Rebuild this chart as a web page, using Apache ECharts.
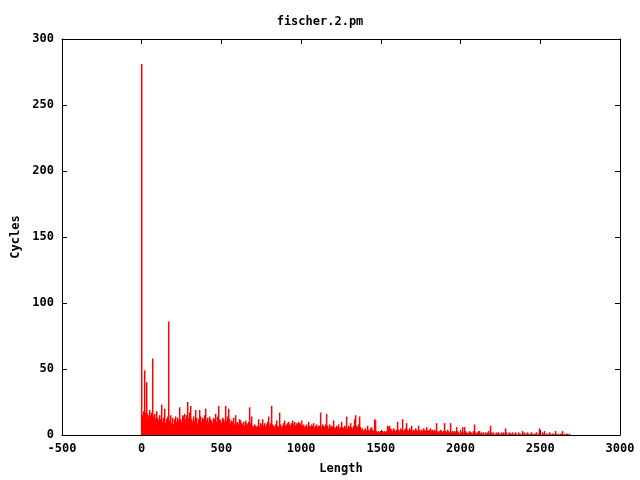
<!DOCTYPE html>
<html>
<head>
<meta charset="utf-8">
<script src="https://cdn.jsdelivr.net/npm/echarts@6/dist/echarts.min.js"></script>
<style>html,body{margin:0;padding:0;background:#fff}#c{width:640px;height:480px}</style>
</head>
<body>
<div id="c"></div>
<script>
// Data
const titleText = "fischer.2.pm";
const xLabel = "Length";
const yLabel = "Cycles";
const xStart = 0;      // length of first impulse
const xStep = 6.27;    // spacing between consecutive lengths sampled
const cycles = [
281,15,18,49,17,40,16,14,19,15,
17,58,14,16,12,18,13,11,15,12,
23,10,13,20,9,12,14,86,11,15,
9,13,8,12,14,10,13,11,21,12,
10,15,14,16,12,15,25,13,17,22,
12,10,14,11,19,13,9,12,19,14,
10,13,12,15,20,11,13,10,14,12,
11,9,13,12,16,10,14,22,12,11,
9,13,12,10,22,11,14,20,12,9,
11,10,13,8,15,9,10,8,12,11,
9,8,10,7,11,9,8,10,21,9,
14,7,6,8,7,6,7,12,6,9,
8,12,7,9,6,8,10,14,7,9,
22,8,7,6,8,11,7,6,17,8,
6,7,9,11,7,8,9,10,8,7,
9,11,8,10,7,9,8,10,9,8,
11,7,8,6,7,8,6,10,7,6,
8,7,9,6,7,8,6,7,7,17,
6,8,7,6,8,16,7,5,8,6,
7,6,11,6,5,7,6,8,5,6,
10,6,5,7,6,14,5,7,6,9,
6,5,7,12,15,7,6,8,14,6,
4,5,3,4,5,3,7,4,3,5,
6,4,3,12,11,3,2,3,2,3,
2,3,2,3,2,3,7,6,7,5,
4,3,5,4,3,4,10,4,3,5,
4,12,3,4,5,9,4,3,5,4,
7,3,4,3,5,4,3,7,4,3,
4,3,5,4,3,6,4,3,4,5,
3,4,3,4,3,9,3,2,3,4,
3,2,3,9,3,2,4,3,2,9,
2,3,2,3,2,6,3,2,1,3,
2,6,2,6,3,2,1,2,3,2,
2,1,3,8,2,1,2,3,3,1,
2,1,2,0,2,1,2,3,1,7,
2,1,2,0,1,2,1,2,1,0,
2,1,2,1,5,2,0,1,2,1,
1,2,0,1,2,1,0,2,1,1,
0,3,1,2,0,1,2,1,0,1,
2,1,0,1,1,2,0,1,5,1,
0,2,1,3,0,1,1,0,2,1,
0,1,1,0,3,1,0,1,0,1,
1,3,0,1,0,1,1,0,1
];
const xMin = -500, xMax = 3000, xInterval = 500;
const yMin = 0, yMax = 300, yInterval = 50;

const pts = cycles.map((v, i) => [xStart + i * xStep, v]);

const font = "DejaVu Sans Mono";
const labelStyle = {color: '#000', fontFamily: font, fontWeight: 'bold', fontSize: 12};
const chart = echarts.init(document.getElementById('c'), null, {renderer: 'canvas'});
const lineStyle = {color: '#000', width: 1};
const plain = v => String(v);
chart.setOption({
  animation: false,
  backgroundColor: '#fff',
  title: {
    text: titleText, left: 'center', top: 11,
    textStyle: {color: '#000', fontFamily: font, fontWeight: 'bold', fontSize: 12}
  },
  grid: {left: 62, right: 20, top: 39, bottom: 40, show: false},
  xAxis: [{
    type: 'value', min: xMin, max: xMax, interval: xInterval, position: 'bottom',
    name: xLabel, nameLocation: 'middle', nameGap: 28, nameTextStyle: labelStyle,
    axisLine: {show: true, onZero: false, lineStyle: lineStyle}, axisTick: {show: true, inside: true, length: 5, lineStyle: lineStyle},
    axisLabel: Object.assign({margin: 8, formatter: plain}, labelStyle), splitLine: {show: false}
  }, {
    type: 'value', min: xMin, max: xMax, interval: xInterval, position: 'top',
    axisLine: {show: true, onZero: false, lineStyle: lineStyle}, axisTick: {show: true, inside: true, length: 5, lineStyle: lineStyle},
    axisLabel: {show: false}, splitLine: {show: false}
  }],
  yAxis: [{
    type: 'value', min: yMin, max: yMax, interval: yInterval, position: 'left',
    name: yLabel, nameLocation: 'middle', nameGap: 40, nameRotate: 90, nameTextStyle: labelStyle,
    axisLine: {show: true, onZero: false, lineStyle: lineStyle}, axisTick: {show: true, inside: true, length: 5, lineStyle: lineStyle},
    axisLabel: Object.assign({margin: 8, formatter: plain}, labelStyle), splitLine: {show: false}
  }, {
    type: 'value', min: yMin, max: yMax, interval: yInterval, position: 'right',
    axisLine: {show: true, onZero: false, lineStyle: lineStyle}, axisTick: {show: true, inside: true, length: 5, lineStyle: lineStyle},
    axisLabel: {show: false}, splitLine: {show: false}
  }],
  series: [{
    type: 'bar', xAxisIndex: 0, yAxisIndex: 0,
    data: pts, barWidth: 1.5, itemStyle: {color: '#ff0000'}, silent: true
  }, {
    type: 'bar', xAxisIndex: 1, yAxisIndex: 1, data: [], silent: true
  }]
});
</script>
</body>
</html>
